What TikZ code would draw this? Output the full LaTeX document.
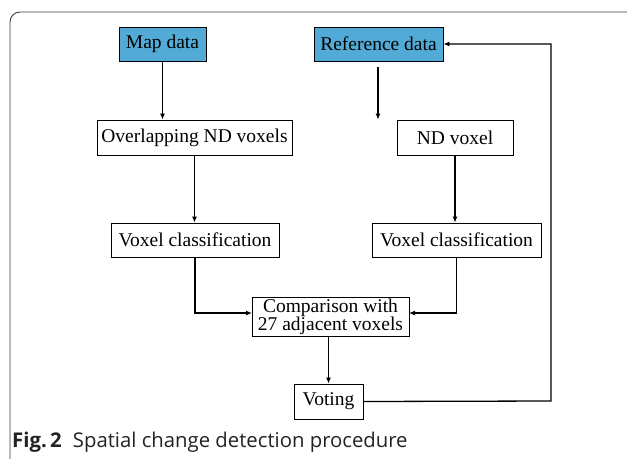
\documentclass[tikz,border=0pt]{standalone}
\usepackage{fontspec}
\setmainfont{Liberation Serif}
\newfontfamily\capfont{Open Sans}
\usetikzlibrary{arrows.meta}
\definecolor{boxblue}{HTML}{52ABD6}
\definecolor{framegray}{HTML}{3C3C3C}
\definecolor{captext}{HTML}{222222}
\tikzset{
  stepbox/.style={draw=black, line width=0.8pt, inner sep=0pt, font=\fontsize{19.5}{21}\selectfont, align=center},
  bluebox/.style={stepbox, fill=boxblue},
  conn/.style={line width=1.3pt, -{Latex[length=6pt,width=5pt]}},
}
\begin{document}
\begin{tikzpicture}[x=1pt,y=-1pt]
\useasboundingbox (0,0) rectangle (627,459);
\draw[framegray, line width=0.9pt] (10,459) -- (10,22) arc[start angle=180,end angle=270,radius=10] -- (627,12);
\node[bluebox, minimum width=87, minimum height=34] (map) at (162.5,44) {Map data};
\node[bluebox, minimum width=129, minimum height=34] (ref) at (378.5,44) {Reference data};
\node[stepbox, minimum width=195, minimum height=35] (ovl) at (194.5,137.5) {Overlapping ND voxels};
\node[stepbox, minimum width=116, minimum height=35] (nd) at (455,137.5) {ND voxel};
\node[stepbox, minimum width=168, minimum height=34] (vcl) at (195,240) {Voxel classification};
\node[stepbox, minimum width=169, minimum height=34] (vcr) at (456.5,240) {Voxel classification};
\node[stepbox, minimum width=157, minimum height=39, font=\fontsize{19.5}{18}\selectfont] (cmp) at (330.5,316.5) {Comparison with\\27 adjacent voxels};
\node[stepbox, minimum width=69, minimum height=35] (vot) at (328.5,401.5) {Voting};
\coordinate (refstart) at (378,67);
\draw[conn] (map.south) -- (map.south |- ovl.north);
\draw[conn] (refstart) -- (refstart |- nd.north);
\draw[conn] (ovl.south) -- (ovl.south |- vcl.north);
\draw[conn] (nd.south) -- (nd.south |- vcr.north);
\coordinate (cl) at (252,313);
\coordinate (cr) at (409,313);
\draw[conn] (vcl.south) |- (cl);
\draw[conn] (vcr.south) |- (cr);
\draw[conn] (cmp.south -| vot.north) -- (vot.north);
\coordinate (fb) at (551,401);
\draw[conn] (vot.east) -- (fb) |- (ref.east);
\node[anchor=base west, inner sep=0pt, text=captext, font=\capfont\fontsize{20.3}{22}\selectfont] (cap) at (12,447) {\textbf{Fig.\,2}\hspace{0.55em}Spatial change detection procedure};
\end{tikzpicture}
\end{document}
